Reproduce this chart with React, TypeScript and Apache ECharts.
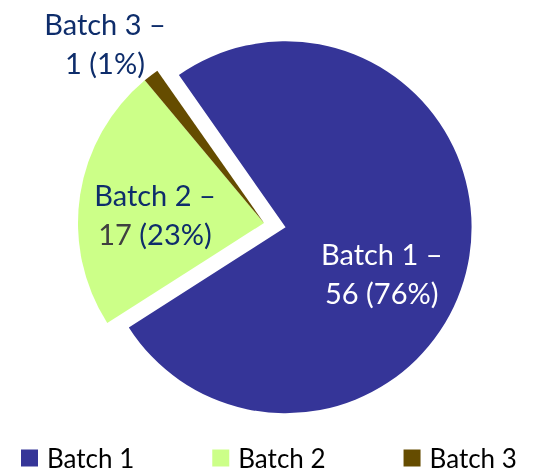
import React, { useEffect, useRef } from "react";
import * as echarts from "echarts";

const categories = ["Batch 1", "Batch 2", "Batch 3"];
const values = [56, 17, 1];
const colors = ["#353598", "#ccff88", "#654c00"];

const FONT = "Lato";
const NAVY = "#0e2d6b";

export default function App() {
  const ref = useRef<HTMLDivElement>(null);
  useEffect(() => {
    if (!ref.current) return;
    const chart = echarts.init(ref.current, null, { renderer: "svg" });
    const labelPos: Record<number, [number, number]> = {
      0: [382, 274],
      1: [155, 214],
      2: [105, 43],
    };
    const txt = { fontFamily: FONT, fontSize: 29, lineHeight: 39 };
    chart.setOption({
      animation: false,
      legend: {
        data: categories,
        left: 21,
        top: 445,
        padding: 0,
        icon: "rect",
        itemWidth: 17,
        itemHeight: 17,
        itemGap: 78,
        selectedMode: false,
        formatter: (name: string) => `{a|${name}}`,
        textStyle: {
          fontFamily: FONT,
          fontSize: 26,
          color: "#000",
          rich: {
            a: {
              fontFamily: FONT,
              fontSize: 26,
              lineHeight: 26,
              color: "#000",
              padding: [0, 0, 0, 4],
            },
          },
        },
      },
      series: [
        {
          type: "pie",
          center: [264, 223],
          radius: 186,
          startAngle: 125,
          clockwise: true,
          selectedMode: "single",
          selectedOffset: 22,
          avoidLabelOverlap: false,
          emphasis: { disabled: true },
          itemStyle: { borderWidth: 0 },
          labelLine: { show: false },
          label: {
            show: true,
            position: "inside",
            formatter: (p: any) => {
              const pct = Math.round(p.percent);
              if (p.dataIndex === 0)
                return `{w|${p.name} –}\n{w|${p.value} (${pct}%)}`;
              if (p.dataIndex === 1)
                return `{n|${p.name} –}\n{g|${p.value} }{n|(${pct}%)}`;
              return `{n|${p.name} –}\n{n|${p.value} (${pct}%)}`;
            },
            rich: {
              w: { ...txt, color: "#ffffff" },
              n: { ...txt, color: NAVY },
              g: { ...txt, color: "#404040" },
            },
          },
          labelLayout: (params: any) => {
            const pos = labelPos[params.dataIndex];
            return { x: pos[0], y: pos[1], align: "center", verticalAlign: "middle" };
          },
          data: categories.map((name, i) => ({
            name,
            value: values[i],
            selected: i === 0,
            itemStyle: { color: colors[i] },
            ...(i === 0 ? { label: { padding: [54, 0, 0, 4] } } : {}),
          })),
        },
      ],
    });
    return () => chart.dispose();
  }, []);
  return (
    <div
      ref={ref}
      style={{ position: "fixed", left: 0, top: 0, width: 548, height: 474 }}
    />
  );
}
